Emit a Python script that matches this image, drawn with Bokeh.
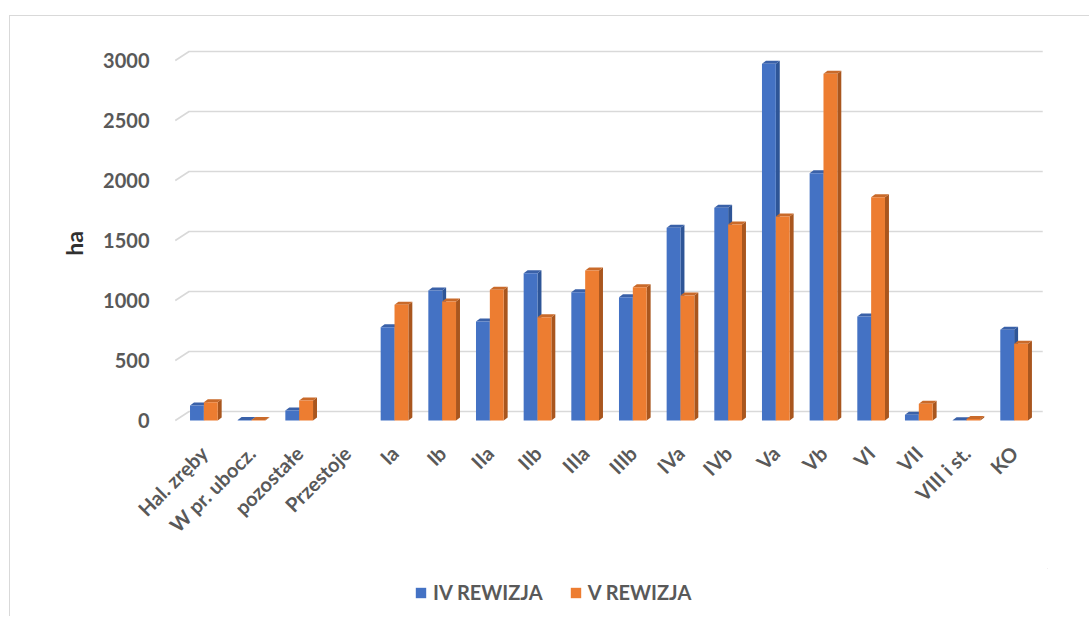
import math
from bokeh.plotting import figure
from bokeh.layouts import column
from bokeh.models import FactorRange, Range1d, FixedTicker, Legend, LegendItem, ColumnDataSource
from bokeh.embed import file_html
from bokeh.resources import INLINE

categories = ["Hal. zręby", "W pr. ubocz.", "pozostałe", "Przestoje", "Ia", "Ib", "IIa", "IIb",
              "IIIa", "IIIb", "IVa", "IVb", "Va", "Vb", "VI", "VII", "VIII i st.", "KO"]
iv_rewizja = [125, 4, 83, 0, 778, 1083, 825, 1228, 1069, 1028, 1606, 1772, 2972, 2061, 867, 47, 3, 756]
v_rewizja = [153, 5, 167, 0, 965, 992, 1089, 861, 1250, 1111, 1042, 1633, 1700, 2889, 1861, 139, 13, 639]
y_ticks = [0, 500, 1000, 1500, 2000, 2500, 3000]
series_names = ["IV REWIZJA", "V REWIZJA"]
colors_front = ["#4472C4", "#ED7D31"]
colors_side = ["#2E5597", "#A9561E"]
colors_top = ["#3A61A8", "#C96A2A"]

FONT = "Lato"
GREY = "#595959"
W, H1, H2 = 1079, 552, 48

pad = 0.2
x_range = FactorRange(factors=categories, range_padding=pad, range_padding_units="absolute")
y_range = Range1d(-216.7, 3166.7)

p = figure(width=W, height=H1, x_range=x_range, y_range=y_range,
           output_backend="svg", toolbar_location=None,
           min_border_left=160, min_border_right=42, min_border_top=24, min_border_bottom=122)
p.outline_line_color = None
p.xgrid.visible = False
p.ygrid.visible = False

px_per_unit = 877 / (len(categories) + pad)
px_per_ha = 0.12
bw = 14 / px_per_unit          # front face width
dx = 4 / px_per_unit           # bar depth, x
dy = 3 / px_per_ha             # bar depth, y
wall_dx = 14 / px_per_unit     # back wall offset
wall_dy = 9 / px_per_ha

x_left = -pad / 2
x_right = len(categories) + pad / 2

# back wall gridlines with left-wall slant
for t in y_ticks:
    p.line([x_left, x_left + wall_dx, x_right], [t, t + wall_dy, t + wall_dy],
           line_color="#d9d9d9", line_width=1.6)

centers = [i + 0.5 for i in range(len(categories))]

def draw_series(vals, offset, front, side, top):
    lefts = [c + offset for c in centers]
    rights = [l + bw for l in lefts]
    src = ColumnDataSource(dict(x=[(l + r) / 2 for l, r in zip(lefts, rights)], top=vals))
    sxs, sys_, txs, tys = [], [], [], []
    for l, r, v in zip(lefts, rights, vals):
        if v <= 0:
            continue
        sxs.append([r, r, r + dx, r + dx])
        sys_.append([0, v, v + dy, dy])
        txs.append([l, r, r + dx, l + dx])
        tys.append([v, v, v + dy, v + dy])
    p.patches(sxs, sys_, fill_color=side, line_color=None)
    p.patches(txs, tys, fill_color=top, line_color=None)
    p.vbar(x="x", top="top", bottom=0, width=bw, source=src,
           fill_color=front, line_color=None)

draw_series(iv_rewizja, -bw, colors_front[0], colors_side[0], colors_top[0])
draw_series(v_rewizja, 0, colors_front[1], colors_side[1], colors_top[1])

# axes
p.yaxis.ticker = FixedTicker(ticks=y_ticks)
p.yaxis.axis_line_color = None
p.yaxis.major_tick_line_color = None
p.yaxis.minor_tick_line_color = None
p.yaxis.major_tick_out = 0
p.yaxis.major_tick_in = 0
p.yaxis.minor_tick_out = 0
p.yaxis.major_label_text_font = FONT
p.yaxis.major_label_text_font_style = "bold"
p.yaxis.major_label_text_font_size = "20px"
p.yaxis.major_label_text_color = GREY
p.yaxis.major_label_standoff = 21
p.yaxis.axis_label = "ha"
p.yaxis.axis_label_text_font = FONT
p.yaxis.axis_label_text_font_style = "bold"
p.yaxis.axis_label_text_font_size = "23px"
p.yaxis.axis_label_text_color = "#303030"
p.yaxis.axis_label_standoff = 12

p.xaxis.axis_line_color = None
p.xaxis.major_tick_line_color = None
p.xaxis.minor_tick_line_color = None
p.xaxis.major_tick_out = 0
p.xaxis.major_tick_in = 0
p.xaxis.major_label_orientation = math.pi / 4
p.xaxis.major_label_text_font = FONT
p.xaxis.major_label_text_font_style = "bold"
p.xaxis.major_label_text_font_size = "20px"
p.xaxis.major_label_text_color = GREY
p.xaxis.major_label_standoff = 3

# legend strip (separate small figure below the chart)
lg = figure(width=W, height=H2, x_range=Range1d(0, 1), y_range=Range1d(0, 1),
            output_backend="svg", toolbar_location=None,
            x_axis_type=None, y_axis_type=None,
            min_border_left=0, min_border_right=0, min_border_top=0, min_border_bottom=0)
lg.outline_line_color = None
lg.xgrid.visible = False
lg.ygrid.visible = False
items = []
for name, col in zip(series_names, colors_front):
    rr = lg.vbar(x=[5], top=[6], bottom=[5], width=0.1, fill_color=col, line_color=None)
    items.append(LegendItem(label=name, renderers=[rr]))
legend = Legend(items=items, orientation="horizontal", location=(244, 12),
                glyph_width=13, glyph_height=13, label_standoff=6, spacing=26,
                label_text_font=FONT, label_text_font_style="bold",
                label_text_font_size="20px", label_text_color=GREY,
                border_line_color=None, background_fill_alpha=0, padding=4, margin=0)
lg.add_layout(legend, "center")

layout = column(p, lg, spacing=0, margin=(15, 0, 0, 9),
                styles={"border-left": "1px solid #d9d9d9", "border-top": "1px solid #d9d9d9"})
open("out.html", "w").write(file_html(layout, INLINE))
